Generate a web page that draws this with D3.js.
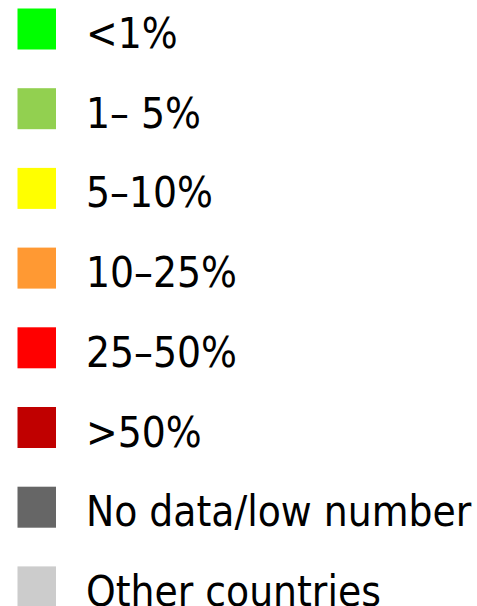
<!DOCTYPE html>
<html><head><meta charset="utf-8">
<script src="https://cdn.jsdelivr.net/npm/d3@7"></script>
<style>html,body{margin:0;padding:0;background:#fff;}</style>
</head><body>
<script>
const labels = ["<1%", "1\u2013 5%", "5\u201310%", "10\u201325%", "25\u201350%", ">50%", "No data/low number", "Other countries"];
const colors = ["#00FF00", "#92D050", "#FFFF00", "#FF9933", "#FF0000", "#C00000", "#666666", "#CCCCCC"];

const W = 477, H = 606;
const svg = d3.select("body").append("svg").attr("width", W).attr("height", H);
const y = d3.scaleBand().domain(d3.range(labels.length)).range([8.5, 8.5 + 79.7 * labels.length]).paddingInner(0);

const g = svg.selectAll("g.item").data(labels).join("g").attr("class", "item")
  .attr("transform", (d, i) => `translate(0,${y(i)})`);
g.append("rect").attr("x", 17.5).attr("y", 0).attr("width", 38.5).attr("height", 41)
  .attr("fill", (d, i) => colors[i]);
g.append("text").attr("x", 86).attr("y", 39.5)
  .attr("font-family", "'DejaVu Sans Condensed', 'DejaVu Sans', sans-serif")
  .attr("font-size", 42).attr("fill", "#000").text(d => d);
</script>
</body></html>
